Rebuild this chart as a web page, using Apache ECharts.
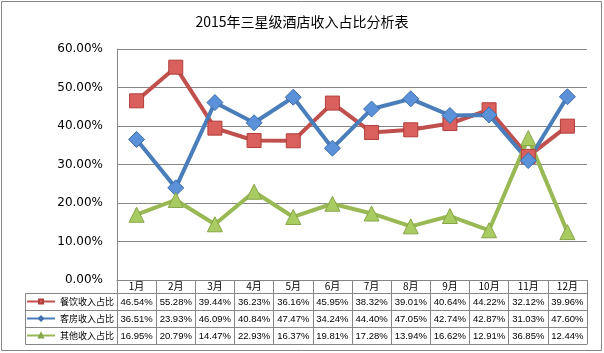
<!DOCTYPE html>
<html>
<head>
<meta charset="utf-8">
<script src="https://cdn.jsdelivr.net/npm/echarts@6/dist/echarts.min.js"></script>
<style>
  html, body { margin: 0; padding: 0; background: #fff; }
  #main { width: 604px; height: 353px; }
</style>
</head>
<body>
<div id="main"></div>
<script>
// 数据
var months = ['1月', '2月', '3月', '4月', '5月', '6月', '7月', '8月', '9月', '10月', '11月', '12月'];
var seriesNames = ['餐饮收入占比', '客房收入占比', '其他收入占比'];
var canyin = [46.54, 55.28, 39.44, 36.23, 36.16, 45.95, 38.32, 39.01, 40.64, 44.22, 32.12, 39.96];
var kefang = [36.51, 23.93, 46.09, 40.84, 47.47, 34.24, 44.40, 47.05, 42.74, 42.87, 31.03, 47.60];
var qita = [16.95, 20.79, 14.47, 22.93, 16.37, 19.81, 17.28, 13.94, 16.62, 12.91, 36.85, 12.44];

var gray = '#868686';
var plotBottom = 280;   // 0% 所在的y
var headH = 13;         // 月份行高
var rowH = 17;          // 数据行高
var tableLeft = 25, plotLeft = 117;

function pct(v) { return v.toFixed(2) + '%'; }

// 表格的每一行用一个x轴来画
function rowAxis(data, offset, len) {
  return {
    type: 'category',
    data: data,
    position: 'bottom',
    offset: offset,
    axisLine: { show: true, onZero: false, lineStyle: { color: gray, width: 1 } },
    axisTick: { show: len > 0, length: len, lineStyle: { color: gray } },
    axisLabel: {
      show: data.length > 0,
      margin: 4,
      fontSize: 9.5,
      fontFamily: 'Liberation Sans, Arial',
      color: '#000',
      interval: 0
    },
    splitLine: { show: false }
  };
}

var xAxes = [
  rowAxis(months, 0, headH),
  rowAxis(canyin.map(pct), headH, rowH),
  rowAxis(kefang.map(pct), headH + rowH, rowH),
  rowAxis(qita.map(pct), headH + rowH * 2, rowH),
  rowAxis(months.map(function () { return ''; }), headH + rowH * 3, 0)
];
xAxes[0].axisLabel.margin = 1;
xAxes[0].axisLabel.fontFamily = 'Noto Sans CJK SC';
xAxes[0].axisLabel.fontSize = 10;
xAxes[4].axisLabel.show = false;

var tTop = plotBottom + headH;
var tBottom = tTop + rowH * 3;

var myChart = echarts.init(document.getElementById('main'));
var option = {
  animation: false,
  backgroundColor: '#fff',
  title: {
    text: '2015年三星级酒店收入占比分析表',
    left: 'center',
    top: 10,
    textStyle: { fontSize: 14, fontWeight: 'normal', color: '#000', fontFamily: 'Noto Sans CJK SC' }
  },
  legend: {
    orient: 'vertical',
    left: tableLeft + 1,
    top: tTop + 2.5,
    padding: 0,
    itemWidth: 28,
    itemHeight: 5,
    itemGap: 5,
    data: seriesNames,
    textStyle: { fontSize: 9, lineHeight: 12, color: '#000', fontFamily: 'Noto Sans CJK SC' }
  },
  grid: { left: plotLeft, right: 17, top: 49, bottom: 353 - plotBottom },
  xAxis: xAxes,
  yAxis: {
    type: 'value',
    min: 0,
    max: 60,
    interval: 10,
    axisLine: { show: true, lineStyle: { color: gray } },
    axisTick: { show: false },
    axisLabel: {
      margin: 14,
      fontSize: 12,
      fontFamily: 'DejaVu Sans',
      color: '#000',
      formatter: function (v) { return pct(v); }
    },
    splitLine: { lineStyle: { color: gray, width: 1 } }
  },
  series: [
    {
      name: seriesNames[0], type: 'line', data: canyin,
      symbol: 'rect', symbolSize: 14,
      lineStyle: { color: '#C0504D', width: 4 },
      itemStyle: { color: '#D9605C', borderColor: '#B23E3B', borderWidth: 1 }
    },
    {
      name: seriesNames[1], type: 'line', data: kefang,
      symbol: 'diamond', symbolSize: 16,
      lineStyle: { color: '#4A7EBB', width: 4 },
      itemStyle: { color: '#5B91D8', borderColor: '#3D6DAA', borderWidth: 1 }
    },
    {
      name: seriesNames[2], type: 'line', data: qita,
      symbol: 'triangle', symbolSize: 15,
      lineStyle: { color: '#98B954', width: 4 },
      itemStyle: { color: '#A9CC62', borderColor: '#86A546', borderWidth: 1 }
    }
  ],
  graphic: [
    // 外框
    { type: 'rect', shape: { x: 1.5, y: 1.5, width: 600, height: 349 }, style: { fill: 'none', stroke: gray, lineWidth: 1 }, silent: true },
    // 图例列的格子
    { type: 'rect', shape: { x: tableLeft + 0.5, y: tTop + 0.5, width: plotLeft - tableLeft, height: tBottom - tTop }, style: { fill: 'none', stroke: gray, lineWidth: 1 }, silent: true },
    { type: 'line', shape: { x1: tableLeft, y1: tTop + rowH + 0.5, x2: plotLeft, y2: tTop + rowH + 0.5 }, style: { stroke: gray, lineWidth: 1 }, silent: true },
    { type: 'line', shape: { x1: tableLeft, y1: tTop + rowH * 2 + 0.5, x2: plotLeft, y2: tTop + rowH * 2 + 0.5 }, style: { stroke: gray, lineWidth: 1 }, silent: true }
  ]
};
myChart.setOption(option);
</script>
</body>
</html>
